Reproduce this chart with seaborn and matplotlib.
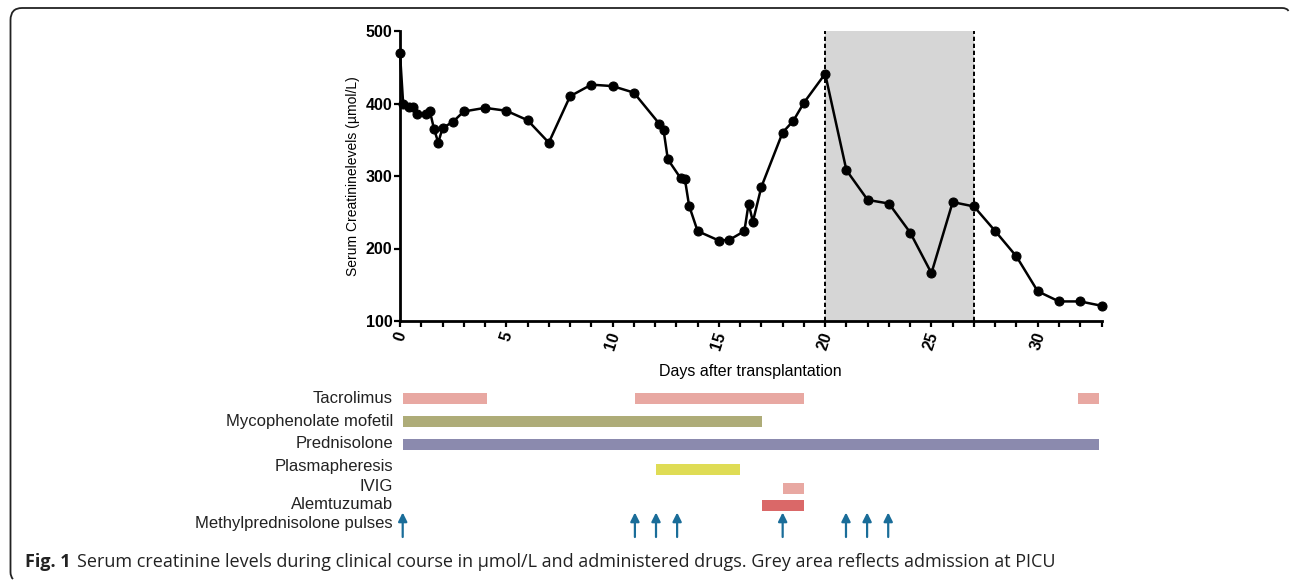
import matplotlib
matplotlib.use("Agg")
import matplotlib.pyplot as plt
import seaborn as sns
import pandas as pd
from matplotlib.path import Path
from matplotlib.patches import PathPatch

# ---------------- data ----------------
days = [0, 0.15, 0.4, 0.6, 0.8, 1.2, 1.4, 1.6, 1.8, 2.0,
        2.5, 3, 4, 5, 6, 7, 8, 9, 10, 11,
        12.2, 12.4, 12.6, 13.2, 13.4, 13.6, 14, 15, 15.5, 16.2,
        16.4, 16.6, 17, 18, 18.5, 19, 20, 21, 22, 23,
        24, 25, 26, 27, 28, 29, 30, 31, 32, 33]
creatinine = [469, 399, 395, 395, 385, 386, 390, 365, 346, 366,
              375, 389, 394, 390, 377, 346, 410, 426, 424, 415,
              372, 363, 323, 297, 296, 259, 224, 211, 212, 224,
              262, 237, 285, 360, 376, 401, 441, 308, 267, 262,
              222, 166, 264, 258, 224, 189, 141, 127, 127, 121]

picu_start, picu_end = 20, 27

drugs = ["Tacrolimus", "Mycophenolate mofetil", "Prednisolone",
         "Plasmapheresis", "IVIG", "Alemtuzumab"]
tacrolimus_periods = [(0, 4), (11, 19), (32, 33)]
mycophenolate_periods = [(0, 17)]
prednisolone_periods = [(0, 33)]
plasmapheresis_periods = [(12, 16)]
ivig_periods = [(18, 19)]
alemtuzumab_periods = [(17, 19)]
pulse_label = "Methylprednisolone pulses"
pulse_days = [0, 11, 12, 13, 18, 21, 22, 23]

x_ticks = [0, 5, 10, 15, 20, 25, 30]
y_ticks = [100, 200, 300, 400, 500]

caption_bold = "Fig. 1"
caption_text = ("Serum creatinine levels during clinical course in \u00b5mol/L and administered drugs. "
                "Grey area reflects admission at PICU")

# ---------------- style ----------------
sns.set_theme(style="ticks")
plt.rcParams['font.family'] = ['Liberation Sans', 'DejaVu Sans']

W, H = 1290, 580
fig = plt.figure(figsize=(W / 100, H / 100), dpi=100)

def fx(px):
    return px / W

def fy(py):
    return 1 - py / H

# ---------------- creatinine plot ----------------
ax1 = fig.add_axes([fx(400), fy(321), fx(1101.5) - fx(400), fy(31) - fy(321)])
ax1.set_facecolor("white")
ax1.axvspan(picu_start, picu_end, color="#d6d6d6", zorder=0, lw=0)
for xv in (picu_start, picu_end):
    ax1.axvline(xv, color="black", ls=(0, (2.2, 1.4)), lw=1.4, zorder=1)

df = pd.DataFrame({"day": days, "creatinine": creatinine})
sns.lineplot(data=df, x="day", y="creatinine", ax=ax1, color="black",
             marker="o", markersize=6.5, markeredgecolor="black", linewidth=1.8,
             sort=False, estimator=None, clip_on=False, zorder=3)

ax1.set_xlim(0, 33)
ax1.set_ylim(100, 500)
for s in ("top", "right"):
    ax1.spines[s].set_visible(False)
for s in ("left", "bottom"):
    ax1.spines[s].set_linewidth(2.0)
    ax1.spines[s].set_color("black")
ax1.set_xticks(x_ticks)
ax1.set_xticks(range(0, 34), minor=True)
ax1.set_yticks(y_ticks)
ax1.tick_params(axis="both", which="both", direction="out", length=4.5, width=1.6,
                color="black", labelsize=11.5, labelcolor="black")
ax1.tick_params(axis="x", which="major", pad=2)
for lab in ax1.get_xticklabels():
    lab.set_rotation(72)
    lab.set_fontweight("bold")
    lab.set_ha("center")
for lab in ax1.get_yticklabels():
    lab.set_fontweight("bold")
ax1.tick_params(axis="y", pad=1)
ax1.set_xlabel("Days after transplantation", fontsize=11.5, labelpad=9, color="black")
ax1.set_ylabel("Serum Creatininelevels (\u00b5mol/L)", fontsize=10, labelpad=4, color="black")

# ---------------- drugs panel ----------------
ax2 = fig.add_axes([fx(402.7), fy(545), fx(1099.3) - fx(402.7), fy(380) - fy(545)])
ax2.set_xlim(0, 33)
ax2.set_ylim(545, 380)
ax2.patch.set_alpha(0)
for s in ax2.spines.values():
    s.set_visible(False)
ax2.set_xticks([])

row_y = [398.5, 421, 444, 469, 488, 505]
label_y = [397, 420, 442, 465, 485, 503, 522]
periods = [tacrolimus_periods, mycophenolate_periods, prednisolone_periods,
           plasmapheresis_periods, ivig_periods, alemtuzumab_periods]
colors = ["#e8a8a2", "#aeac78", "#8b8aae", "#dfdc55", "#e8a8a2", "#da6868"]
for yv, plist, c in zip(row_y, periods, colors):
    for (a, b) in plist:
        ax2.barh(yv, b - a, left=a, height=11, color=c, edgecolor="none")

for d in pulse_days:
    ax2.annotate("", xy=(d, 512.5), xytext=(d, 537),
                 arrowprops=dict(arrowstyle="-|>", color="#1a6d99", lw=1.6,
                                 mutation_scale=13, shrinkA=0, shrinkB=0))

ax2.set_yticks(label_y)
ax2.set_yticklabels(drugs + [pulse_label])
ax2.tick_params(axis="y", length=0, pad=7, labelsize=12, labelcolor="#222222")

# ---------------- caption ----------------
t1 = fig.text(fx(25), fy(567), caption_bold, fontsize=13, fontweight="bold",
              family=["Open Sans", "DejaVu Sans"], color="#222222", va="baseline")
fig.canvas.draw()
bb = t1.get_window_extent()
fig.text((bb.x1 + 6) / W, fy(567), caption_text, fontsize=13,
         family=["Open Sans", "DejaVu Sans"], color="#222222", va="baseline")

# ---------------- frame (rounded bracket) ----------------
verts = [
    (13, 579), (10.5, 577), (10.5, 572),
    (10.5, 20),
    (10.5, 8), (22, 8),
    (1282, 8),
    (1287, 8), (1288.5, 11),
]
codes = [Path.MOVETO, Path.CURVE3, Path.CURVE3,
         Path.LINETO,
         Path.CURVE3, Path.CURVE3,
         Path.LINETO,
         Path.CURVE3, Path.CURVE3]
verts_f = [(fx(x), fy(y)) for x, y in verts]
patch = PathPatch(Path(verts_f, codes), transform=fig.transFigure, fill=False,
                  edgecolor="#222222", lw=1.3)
fig.patches.append(patch)

fig.savefig("out.png", dpi=100, facecolor="white")
